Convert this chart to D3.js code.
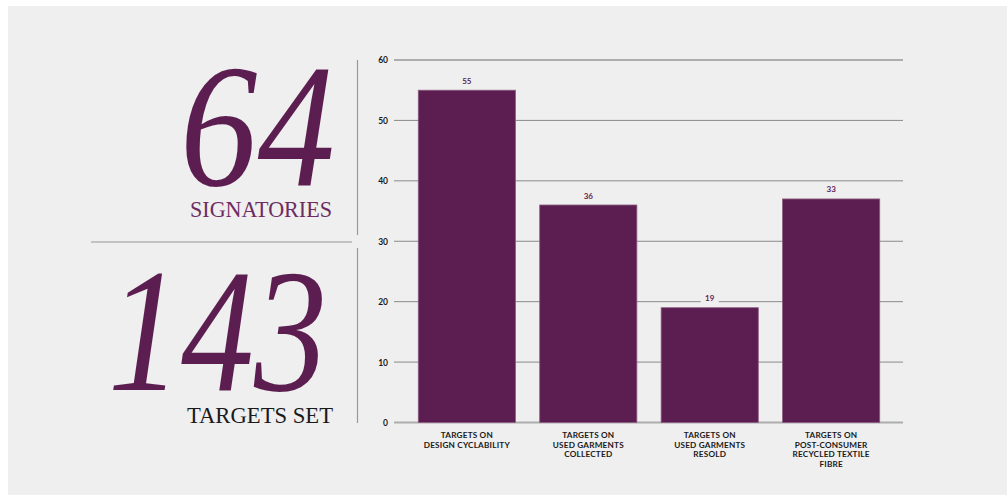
<!DOCTYPE html>
<html><head><meta charset="utf-8">
<script src="https://cdn.jsdelivr.net/npm/d3@7"></script>
<style>html,body{margin:0;padding:0;background:#fff;}svg{display:block;}</style>
</head><body>
<svg id="c" width="1007" height="495"></svg>
<script>
const categories = [
  ["TARGETS ON", "DESIGN CYCLABILITY"],
  ["TARGETS ON", "USED GARMENTS", "COLLECTED"],
  ["TARGETS ON", "USED GARMENTS", "RESOLD"],
  ["TARGETS ON", "POST-CONSUMER", "RECYCLED TEXTILE", "FIBRE"]
];
const values = [55, 36, 19, 37];
const valueLabels = ["55", "36", "19", "33"];
const yTicks = [0, 10, 20, 30, 40, 50, 60];
const bigStats = [{num: "64", label: "SIGNATORIES"}, {num: "143", label: "TARGETS SET"}];

const purple = "#5c1e51";
const svg = d3.select("#c");
svg.append("rect").attr("x", 8).attr("y", 6).attr("width", 999).attr("height", 489).attr("fill", "#efefef");

const x = d3.scaleBand().domain(d3.range(categories.length)).range([394, 904]).paddingInner(0.2).paddingOuter(0.2);
const y = d3.scaleLinear().domain([0, 60]).range([422.5, 60]);

// grid
const g = svg.append("g");
g.selectAll("line.grid").data(yTicks).join("line")
  .attr("x1", 394).attr("x2", 903)
  .attr("y1", d => y(d)).attr("y2", d => y(d))
  .attr("stroke", d => (d === 0 || d === 60) ? "#adadad" : "#8a8a8a")
  .attr("stroke-width", d => (d === 0 || d === 60) ? 2 : 1);

// y axis labels
const yAxis = d3.axisLeft(y).tickValues(yTicks).tickSize(0).tickPadding(0);
const ya = svg.append("g").attr("transform", "translate(388,0)").call(yAxis);
ya.select(".domain").remove();
ya.selectAll("text").attr("font-family", "Lato").attr("font-weight", 700).attr("font-size", 8.5).attr("fill", "#1a1a1a").attr("dy", "0.35em");

// bars
svg.selectAll("rect.bar").data(values).join("rect")
  .attr("x", (d, i) => x(i)).attr("width", x.bandwidth())
  .attr("y", d => y(d)).attr("height", d => y(0) - y(d))
  .attr("fill", purple).attr("stroke", "#8c5c82").attr("stroke-width", 0.8);

// value labels with background
const vl = svg.selectAll("g.vl").data(values).join("g")
  .attr("transform", (d, i) => `translate(${x(i) + x.bandwidth() / 2},${y(d) - 6.5})`);
vl.append("rect").attr("x", -9).attr("y", -7).attr("width", 18).attr("height", 9).attr("fill", "#efefef");
vl.append("text").attr("text-anchor", "middle").attr("font-family", "Lato").attr("font-weight", 700)
  .attr("font-size", 8).attr("fill", "#5c1e51").text((d, i) => valueLabels[i]);

// x labels
const xl = svg.selectAll("text.xl").data(categories).join("text")
  .attr("text-anchor", "middle").attr("font-family", "Lato").attr("font-weight", 700)
  .attr("font-size", 8.2).attr("fill", "#1a1a1a").attr("letter-spacing", 0.2)
  .attr("transform", (d, i) => `translate(${x(i) + x.bandwidth() / 2},438)`);
xl.selectAll("tspan").data(d => d).join("tspan").attr("x", 0).attr("dy", (d, j) => j === 0 ? 0 : 9.7).text(d => d);

// dividers
svg.append("line").attr("x1", 357.5).attr("x2", 357.5).attr("y1", 60).attr("y2", 235).attr("stroke", "#999").attr("stroke-width", 1.2);
svg.append("line").attr("x1", 357.5).attr("x2", 357.5).attr("y1", 248).attr("y2", 423).attr("stroke", "#999").attr("stroke-width", 1.2);
svg.append("line").attr("x1", 91).attr("x2", 352).attr("y1", 242).attr("y2", 242).attr("stroke", "#b3b3b3").attr("stroke-width", 1.5);

// big stats
const numPos = [{x: 335, y: 185, w: 155}, {x: 327, y: 390, w: 219}];
const labPos = [{x: 332, y: 217, w: 142, c: "#6d2c61"}, {x: 333, y: 423, w: 146, c: "#1a1a1a"}];
bigStats.forEach((s, i) => {
  svg.append("text").attr("x", numPos[i].x).attr("y", numPos[i].y).attr("text-anchor", "end")
    .attr("font-family", "Liberation Serif").attr("font-style", "italic").attr("font-size", 176)
    .attr("fill", purple).attr("textLength", numPos[i].w).attr("lengthAdjust", "spacingAndGlyphs").text(s.num);
  svg.append("text").attr("x", labPos[i].x).attr("y", labPos[i].y).attr("text-anchor", "end")
    .attr("font-family", "Liberation Serif").attr("font-size", 22.5)
    .attr("fill", labPos[i].c).attr("textLength", labPos[i].w).attr("lengthAdjust", "spacingAndGlyphs").text(s.label);
});
</script>
</body></html>
